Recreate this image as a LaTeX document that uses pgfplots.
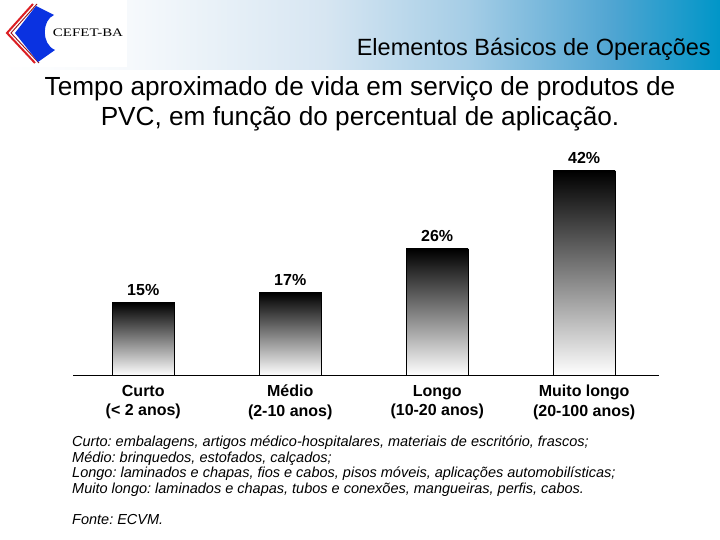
\documentclass[border=0pt]{standalone}
\usepackage{pgfplots}
\pgfplotsset{compat=1.18}
\usepackage{graphicx}
\usepackage{fontspec}
\setmainfont{Liberation Sans}
\newfontfamily\seriffont{Liberation Serif}
\frenchspacing
\definecolor{hdrA}{RGB}{246,249,252}
\definecolor{hdrB}{RGB}{215,230,242}
\definecolor{hdrC}{RGB}{165,205,230}
\definecolor{hdrD}{RGB}{80,165,210}
\definecolor{hdrE}{RGB}{0,150,200}
\definecolor{logoblue}{RGB}{10,50,225}
\definecolor{logored}{RGB}{220,30,35}
\pgfdeclarehorizontalshading{header}{100bp}{color(0bp)=(white); color(25bp)=(white); color(34bp)=(hdrA); color(47.5bp)=(hdrB); color(57.5bp)=(hdrC); color(67.5bp)=(hdrD); color(75bp)=(hdrE); color(100bp)=(hdrE)}
\pgfplotsset{gradbar/.style={draw=black, line width=0.6pt, top color=black, bottom color=white}}
\begin{document}
\begin{tikzpicture}
\begin{scope}[x=1pt,y=1pt]
\useasboundingbox (0,0) rectangle (720,540);
\fill[white] (0,0) rectangle (720,540);
\shade[shading=header] (0,470) rectangle (720,540);
\fill[white] (0,473) rectangle (127,540);
% logo
\draw[logored, line width=2pt] (33,536) -- (7,507) -- (35,477);
\draw[logored!70!black, line width=0.9pt] (37,536) -- (11,507) -- (39,477);
\fill[logoblue] (36,534) -- (54,525) .. controls (42,520) and (41,496) .. (55,490) -- (38,478) -- (15,507) -- cycle;
\node[inner sep=0] at (88,507) {\seriffont\fontsize{11.5}{13}\selectfont\scalebox{1.3}[1]{CEFET-BA}};
% title
\node[anchor=base east, inner sep=0] at (711,484) {\fontsize{23.5}{28}\selectfont Elementos Básicos de Operações};
\node[anchor=base, inner sep=0] at (360,444) {\fontsize{26.2}{30}\selectfont Tempo aproximado de vida em serviço de produtos de};
\node[anchor=base, inner sep=0] at (360,414) {\fontsize{26.2}{30}\selectfont PVC, em função do percentual de aplicação.};
% footnotes
\begin{scope}[every node/.style={anchor=base west, inner sep=0, font=\itshape\fontsize{14.5}{16}\selectfont}]
\node at (72,93.5) {Curto: embalagens, artigos médico-hospitalares, materiais de escritório, frascos;};
\node at (72,77.7) {Médio: brinquedos, estofados, calçados;};
\node at (72,62) {Longo: laminados e chapas, fios e cabos, pisos móveis, aplicações automobilísticas;};
\node at (72,46) {Muito longo: laminados e chapas, tubos e conexões, mangueiras, perfis, cabos.};
\node at (72,15) {Fonte: ECVM.};
\end{scope}
\end{scope}
\begin{axis}[
  at={(73pt,164.5pt)}, anchor=south west,
  scale only axis, width=586pt, height=219.15pt,
  xmin=-0.478, xmax=3.509, ymin=0, ymax=45,
  axis x line=bottom, axis y line=none,
  axis line style={-}, x axis line style={-, line width=0.8pt, black},
  xtick={0,1,2,3},
  xticklabels={{Curto\\(< 2 anos)},{Médio\\(2-10 anos)},{Longo\\(10-20 anos)},{Muito longo\\(20-100 anos)}},
  ytick=\empty, major tick length=0pt,
  xticklabel style={align=center, font=\bfseries\fontsize{16}{19.5}\selectfont, anchor=north, inner sep=0pt, yshift=-9.5pt},
  ybar, bar width=62pt, bar shift=0pt,
  nodes near coords={\pgfmathprintnumber{\pgfplotspointmeta}\%},
  nodes near coords style={font=\bfseries\fontsize{16}{19}\selectfont, text=black, anchor=base, inner sep=0pt, yshift=7pt},
  /pgf/number format/assume math mode=true,
  clip=false,
]
\addplot[gradbar] coordinates {(0,15)};
\addplot[gradbar] coordinates {(1,17)};
\addplot[gradbar] coordinates {(2,26)};
\addplot[gradbar] coordinates {(3,42)};
\end{axis}
\end{tikzpicture}
\end{document}
